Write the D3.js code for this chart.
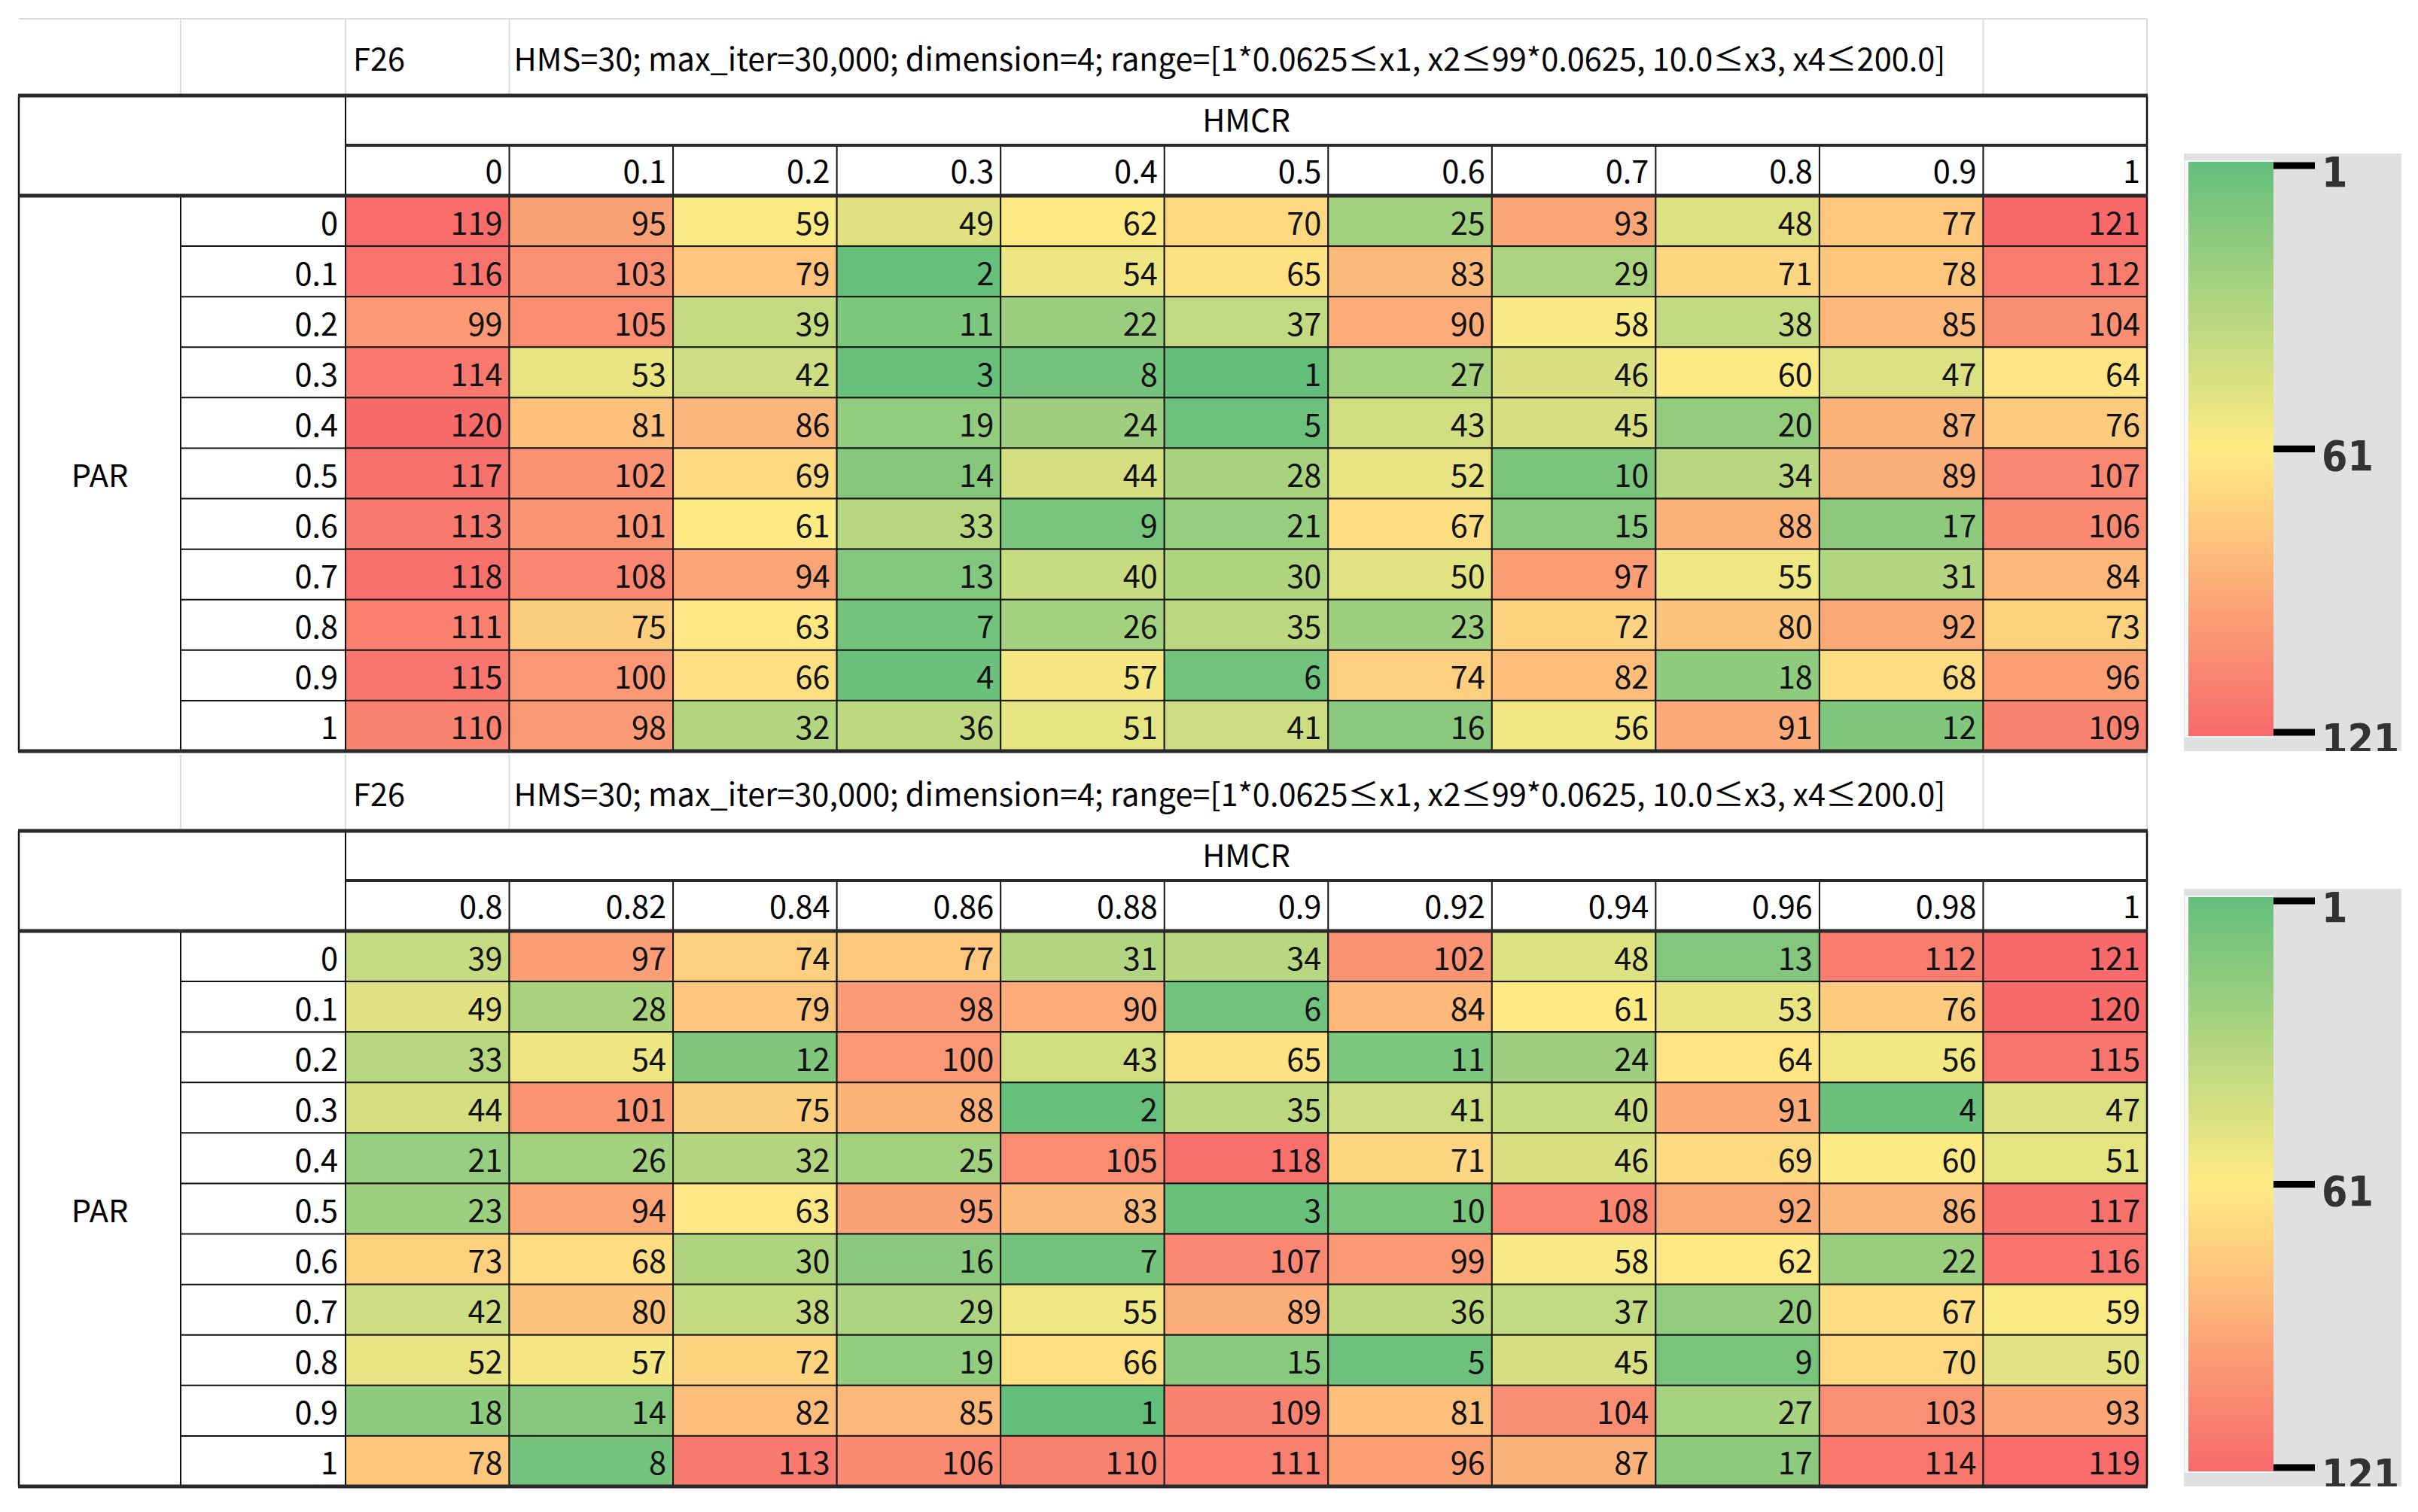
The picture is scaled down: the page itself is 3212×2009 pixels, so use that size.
<!DOCTYPE html>
<html>
<head>
<meta charset="utf-8">
<script src="https://cdn.jsdelivr.net/npm/d3@7"></script>
<style>
body { margin: 0; background: #fff; }
</style>
</head>
<body>
<div id="chart"></div>
<script>
// ranks of each (PAR, HMCR) setting
var parLabels = ["0", "0.1", "0.2", "0.3", "0.4", "0.5", "0.6", "0.7", "0.8", "0.9", "1"];
var hmcrTop = ["0", "0.1", "0.2", "0.3", "0.4", "0.5", "0.6", "0.7", "0.8", "0.9", "1"];
var hmcrBottom = ["0.8", "0.82", "0.84", "0.86", "0.88", "0.9", "0.92", "0.94", "0.96", "0.98", "1"];

var rankTop = [
    [119, 95, 59, 49, 62, 70, 25, 93, 48, 77, 121],
    [116, 103, 79, 2, 54, 65, 83, 29, 71, 78, 112],
    [99, 105, 39, 11, 22, 37, 90, 58, 38, 85, 104],
    [114, 53, 42, 3, 8, 1, 27, 46, 60, 47, 64],
    [120, 81, 86, 19, 24, 5, 43, 45, 20, 87, 76],
    [117, 102, 69, 14, 44, 28, 52, 10, 34, 89, 107],
    [113, 101, 61, 33, 9, 21, 67, 15, 88, 17, 106],
    [118, 108, 94, 13, 40, 30, 50, 97, 55, 31, 84],
    [111, 75, 63, 7, 26, 35, 23, 72, 80, 92, 73],
    [115, 100, 66, 4, 57, 6, 74, 82, 18, 68, 96],
    [110, 98, 32, 36, 51, 41, 16, 56, 91, 12, 109]
];

var rankBottom = [
    [39, 97, 74, 77, 31, 34, 102, 48, 13, 112, 121],
    [49, 28, 79, 98, 90, 6, 84, 61, 53, 76, 120],
    [33, 54, 12, 100, 43, 65, 11, 24, 64, 56, 115],
    [44, 101, 75, 88, 2, 35, 41, 40, 91, 4, 47],
    [21, 26, 32, 25, 105, 118, 71, 46, 69, 60, 51],
    [23, 94, 63, 95, 83, 3, 10, 108, 92, 86, 117],
    [73, 68, 30, 16, 7, 107, 99, 58, 62, 22, 116],
    [42, 80, 38, 29, 55, 89, 36, 37, 20, 67, 59],
    [52, 57, 72, 19, 66, 15, 5, 45, 9, 70, 50],
    [18, 14, 82, 85, 1, 109, 81, 104, 27, 103, 93],
    [78, 8, 113, 106, 110, 111, 96, 87, 17, 114, 119]
];

var legendTicks = [1, 61, 121];
var funcName = "F26";
var setupText = "HMS=30; max_iter=30,000; dimension=4; range=[1*0.0625\u2264x1, x2\u226499*0.0625, 10.0\u2264x3, x4\u2264200.0]";
var rowTitle = "PAR";
var colTitle = "HMCR";

var width = 3212, height = 2009;
var font = "'Noto Sans CJK KR', 'Noto Sans', sans-serif";
var fontSize = 41.5;

var color = d3.scaleLinear()
    .domain([1, 61, 121])
    .range(["#63BE7B", "#FFEB84", "#F8696B"]);

var svg = d3.select("#chart").append("svg")
    .attr("width", width)
    .attr("height", height)
    .style("display", "block")
    .style("background", "#fff");

var defs = svg.append("defs");
var grad = defs.append("linearGradient")
    .attr("id", "scaleGrad")
    .attr("x1", 0).attr("y1", 0).attr("x2", 0).attr("y2", 1);
grad.selectAll("stop")
    .data(d3.range(0, 13).map((i) => 1 + i * 10))
    .enter()
    .append("stop")
    .attr("offset", (d) => (d - 1) / 120)
    .attr("stop-color", (d) => color(d));

var left = 25, colA = 240, colB = 459, right = 2852;

function line(g, x1, y1, x2, y2, w, c) {
    g.append("line")
        .attr("x1", x1).attr("y1", y1).attr("x2", x2).attr("y2", y2)
        .attr("stroke", c || "#111")
        .attr("stroke-width", w);
}

function drawTable(top, hmcr, rank, showTopGrid) {
    var g = svg.append("g");
    var titleTop = top - 102;
    var bottom = top + 871;

    var x = d3.scaleBand().domain(hmcr).range([colB, right]);
    var y = d3.scaleBand().domain(parLabels).range([top + 133, bottom]);

    // light sheet grid in the title row
    if (showTopGrid) line(g, left, titleTop, right, titleTop, 2, "#dcdcdc");
    [colA, colB, x(hmcr[1]), x(hmcr[10]), right].forEach(function(xx) {
        line(g, xx, titleTop, xx, top, 2, "#dcdcdc");
    });

    g.append("text")
        .attr("x", colB + 10)
        .attr("y", (titleTop + top) / 2)
        .attr("dominant-baseline", "central")
        .style("font-family", font).style("font-size", fontSize + "px")
        .text(funcName);
    g.append("text")
        .attr("x", x(hmcr[1]) + 6)
        .attr("y", (titleTop + top) / 2)
        .attr("dominant-baseline", "central")
        .style("font-family", font).style("font-size", fontSize + "px")
        .text(setupText);

    // coloured rank cells
    var cells = [];
    rank.forEach(function(row, i) {
        row.forEach(function(v, j) {
            cells.push({ par: parLabels[i], hmcr: hmcr[j], v: v });
        });
    });

    g.selectAll("rect.cell")
        .data(cells)
        .enter()
        .append("rect")
        .attr("class", "cell")
        .attr("x", (d) => x(d.hmcr))
        .attr("y", (d) => y(d.par))
        .attr("width", x.bandwidth())
        .attr("height", y.bandwidth())
        .attr("fill", (d) => color(d.v))
        .attr("stroke", "#1a1a1a")
        .attr("stroke-width", 2);

    g.selectAll("text.val")
        .data(cells)
        .enter()
        .append("text")
        .attr("class", "val")
        .attr("x", (d) => x(d.hmcr) + x.bandwidth() - 9)
        .attr("y", (d) => y(d.par) + y.bandwidth() / 2)
        .attr("text-anchor", "end")
        .attr("dominant-baseline", "central")
        .style("font-family", font).style("font-size", fontSize + "px")
        .style("fill", "#111")
        .text((d) => d.v);

    // HMCR labels
    g.selectAll("text.hmcr")
        .data(hmcr)
        .enter()
        .append("text")
        .attr("x", (d) => x(d) + x.bandwidth() - 9)
        .attr("y", top + 98)
        .attr("text-anchor", "end")
        .attr("dominant-baseline", "central")
        .style("font-family", font).style("font-size", fontSize + "px")
        .text((d) => d);

    // PAR labels
    g.selectAll("text.par")
        .data(parLabels)
        .enter()
        .append("text")
        .attr("x", colB - 10)
        .attr("y", (d) => y(d) + y.bandwidth() / 2)
        .attr("text-anchor", "end")
        .attr("dominant-baseline", "central")
        .style("font-family", font).style("font-size", fontSize + "px")
        .text((d) => d);

    g.append("text")
        .attr("x", (left + colA) / 2)
        .attr("y", (top + 133 + bottom) / 2)
        .attr("text-anchor", "middle")
        .attr("dominant-baseline", "central")
        .style("font-family", font).style("font-size", fontSize + "px")
        .text(rowTitle);

    g.append("text")
        .attr("x", (colB + right) / 2)
        .attr("y", top + 30)
        .attr("text-anchor", "middle")
        .attr("dominant-baseline", "central")
        .style("font-family", font).style("font-size", fontSize + "px")
        .text(colTitle);

    // borders
    parLabels.forEach(function(p) {
        line(g, colA, y(p), colB, y(p), 2);
    });
    hmcr.forEach(function(h) {
        line(g, x(h), top + 66, x(h), top + 133, 2);
    });
    line(g, left, top, left, bottom, 2.5);
    line(g, colA, top + 133, colA, bottom, 2);
    line(g, colB, top, colB, bottom, 2);
    line(g, right, top, right, bottom, 2.5);
    line(g, colB, top + 66, right, top + 66, 4, "#2a2a2a");
    line(g, left - 1, top, right + 1, top, 5, "#2a2a2a");
    line(g, left - 1, top + 133, right + 1, top + 133, 5, "#2a2a2a");
    line(g, left - 1, bottom, right + 1, bottom, 5, "#2a2a2a");
}

function drawLegend(top, id) {
    var g = svg.append("g");
    var boxTop = top + 77, boxBottom = top + 871;

    g.append("clipPath").attr("id", id)
        .append("rect")
        .attr("x", 2901).attr("y", boxTop)
        .attr("width", 289).attr("height", boxBottom - boxTop);

    var inner = g.append("g").attr("clip-path", "url(#" + id + ")");

    inner.append("rect")
        .attr("x", 2901).attr("y", boxTop)
        .attr("width", 289).attr("height", boxBottom - boxTop)
        .attr("fill", "#e0e0e0");

    inner.append("rect")
        .attr("x", 2902).attr("y", top + 86)
        .attr("width", 118).attr("height", 767)
        .attr("fill", "#f4f6f8");

    inner.append("rect")
        .attr("x", 2907).attr("y", top + 88)
        .attr("width", 113).attr("height", 763)
        .attr("fill", "url(#scaleGrad)");

    var ly = d3.scaleLinear().domain([1, 121]).range([top + 93, top + 846]);

    inner.selectAll("line.tick")
        .data(legendTicks)
        .enter()
        .append("line")
        .attr("x1", 3020).attr("x2", 3075)
        .attr("y1", (d) => ly(d)).attr("y2", (d) => ly(d))
        .attr("stroke", "#000")
        .attr("stroke-width", 9);

    inner.selectAll("text.tick")
        .data(legendTicks)
        .enter()
        .append("text")
        .attr("x", 3084)
        .attr("y", (d) => ly(d) + 9)
        .attr("dominant-baseline", "central")
        .style("font-family", "'DejaVu Sans Condensed', 'DejaVu Sans', sans-serif")
        .style("font-weight", "bold")
        .style("font-size", "55px")
        .style("fill", "#333")
        .text((d) => d);
}

drawTable(127, hmcrTop, rankTop, true);
drawTable(1104, hmcrBottom, rankBottom, false);
drawLegend(127, "clipTop");
drawLegend(1104, "clipBottom");
</script>
</body>
</html>
